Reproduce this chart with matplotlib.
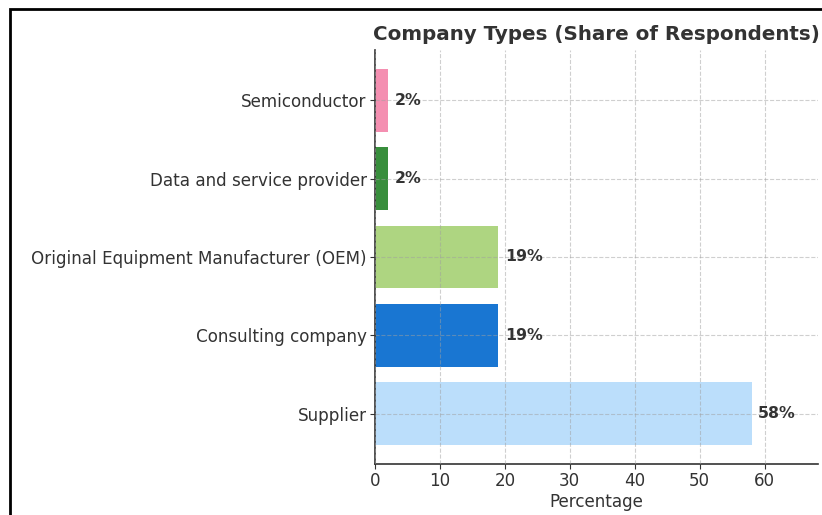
import matplotlib
matplotlib.use("Agg")
import matplotlib.pyplot as plt
from matplotlib.patches import Rectangle

# company types, bottom to top
categories = ["Supplier", "Consulting company", "Original Equipment Manufacturer (OEM)",
              "Data and service provider", "Semiconductor"]
shares = [58, 19, 19, 2, 2]
colors = ["#bbdefb", "#1976d2", "#aed581", "#388e3c", "#f48fb1"]
xticks = [0, 10, 20, 30, 40, 50, 60]

txt = "#333333"
plt.rcParams["font.family"] = "DejaVu Sans"

fig = plt.figure(figsize=(8.22, 5.15), dpi=100)
ax = fig.add_axes([0.4562, 0.099, 0.5388, 0.804])

ax.barh(categories, shares, color=colors, height=0.8, zorder=2)
for i, v in enumerate(shares):
    ax.text(v + 1, i, f"{v}%", va="center", ha="left", fontsize=11.3,
            fontweight="bold", color=txt, zorder=4)

ax.set_xlim(0, 68.2)
ax.set_xticks(xticks)
ax.set_axisbelow(False)
ax.grid(True, linestyle="--", color="#a0a0a0", linewidth=0.8, alpha=0.5)
ax.spines["top"].set_visible(False)
ax.spines["right"].set_visible(False)
for s in ["left", "bottom"]:
    ax.spines[s].set_color(txt)
    ax.spines[s].set_linewidth(1.2)
ax.tick_params(axis="both", labelsize=12.1, colors=txt, labelcolor=txt,
               length=3.5, pad=2.5)
ax.set_xlabel("Percentage", fontsize=12.1, color=txt, labelpad=2)
ax.set_title("Company Types (Share of Respondents)", fontsize=14.3,
             fontweight="bold", color=txt, pad=7)

# frame of the cropped screenshot
fig.patches.append(Rectangle((9.5 / 822, -0.1), 1.2, 1 - 9.5 / 515 + 0.1,
                             transform=fig.transFigure, fill=False,
                             edgecolor="black", linewidth=2, clip_on=False))

fig.savefig("out.png", dpi=100)
